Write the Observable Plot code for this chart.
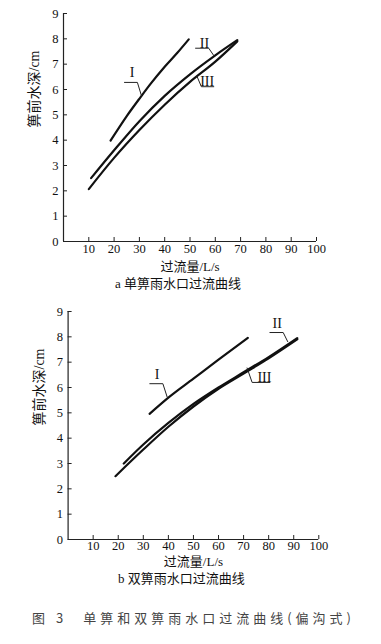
<!DOCTYPE html>
<html>
<head>
<meta charset="utf-8">
<script src="https://cdn.jsdelivr.net/npm/d3@7"></script>
<script src="https://cdn.jsdelivr.net/npm/@observablehq/plot@0.6"></script>
<style>
  body { margin: 0; background: #fff; width: 381px; }
  .cap { height: 48px; box-sizing: border-box; padding-top: 13px; padding-left: 32px;
         font: 13px "Noto Sans CJK SC", "Liberation Serif", serif; color: #444; line-height: 18px; white-space: pre; }
  .cap .t { letter-spacing: 4px; }
</style>
</head>
<body>
<div id="a"></div>
<div id="b"></div>
<div class="cap"><span class="t">图 3</span><span style="display:inline-block;width:16px"></span><span class="t">单箅和双箅雨水口过流曲线(偏沟式)</span></div>
<script>
// ---- axis ticks & titles ----
const xTicks = [10, 20, 30, 40, 50, 60, 70, 80, 90, 100];
const yTicks = [0, 1, 2, 3, 4, 5, 6, 7, 8, 9];
const xTitle = "过流量/L/s";
const yTitle = "箅前水深/cm";
const seriesNames = ["I", "II", "III"];

// ---- panel a: 单箅 ----
const aTitle = "a 单箅雨水口过流曲线";
const aIx = [18.6, 25, 30.4, 34.4, 40, 45, 49.5];
const aIy = [3.98, 4.95, 5.69, 6.22, 6.9, 7.45, 7.98];
const aIIx = [10.9, 20, 30, 40, 50, 60, 68.7];
const aIIy = [2.5, 3.6, 4.75, 5.75, 6.6, 7.35, 7.95];
const aIIIx = [10, 20, 30, 40, 50, 60, 68.7];
const aIIIy = [2.07, 3.3, 4.4, 5.4, 6.3, 7.1, 7.9];
// label anchors (data units) and leader polylines
const aLabelX = [27.1, 55.7, 56.8];
const aLabelY = [6.68, 7.83, 6.32];
const aLeadI = [[24.1, 6.28], [29.2, 6.28], [30.8, 5.76]];
const aLeadII = [[52.2, 7.63], [57.4, 7.63], [59.4, 7.34]];
const aLeadIII = [[52.8, 6.51], [54.5, 6.11], [59.4, 6.11]];

// ---- panel b: 双箅 ----
const bTitle = "b 双箅雨水口过流曲线";
const bIx = [32.5, 40, 50, 60, 71.7];
const bIy = [4.96, 5.6, 6.35, 7.1, 7.96];
const bIIx = [22.2, 30, 40, 50, 60, 70, 80, 91.4];
const bIIy = [3.0, 3.75, 4.6, 5.35, 6.0, 6.6, 7.2, 7.95];
const bIIIx = [18.9, 30, 40, 50, 60, 70, 80, 91.4];
const bIIIy = [2.5, 3.55, 4.45, 5.25, 5.95, 6.55, 7.15, 7.9];
const bLabelX = [35.5, 83.4, 78.3];
const bLabelY = [6.53, 8.52, 6.41];
const bLeadI = [[32.6, 6.15], [37.8, 6.15], [39.5, 5.63]];
const bLeadII = [[80.5, 8.17], [85.8, 8.17], [87.6, 7.81]];
const bLeadIII = [[71.4, 6.77], [73.4, 6.2], [80.5, 6.2]];

const serif = "'Liberation Serif', 'Times New Roman', serif";
const cjk = "'Liberation Serif', 'Noto Sans CJK SC', serif";

function toRows(xs, ys, name) { return xs.map((x, i) => ({x, y: ys[i], name})); }

function panel({series, labelX, labelY, leads, title, ml, mr, tickPad, titleDy}) {
  const lines = series.flatMap(([xs, ys], i) => toRows(xs, ys, seriesNames[i]));
  const labels = labelX.map((x, i) => ({x, y: labelY[i], t: seriesNames[i]}));
  const leadRows = leads.flatMap((pts, i) => pts.map(([x, y]) => ({x, y, name: seriesNames[i]})));
  return Plot.plot({
    width: 381, height: 298,
    marginTop: 13, marginBottom: 57, marginLeft: ml, marginRight: mr,
    style: {fontFamily: serif, fontSize: "12px", color: "#111", background: "#fff"},
    x: {domain: [0, 100], ticks: xTicks},
    y: {domain: [0, 9], ticks: yTicks},
    marks: [
      Plot.ruleY([0], {stroke: "#222", strokeWidth: 1.2}),
      Plot.ruleX([0], {y1: 0, y2: 9, stroke: "#222", strokeWidth: 1.2}),
      Plot.axisX(xTicks, {tickSize: -4, tickPadding: tickPad + 4, fontSize: 12.5, label: null, stroke: "#222"}),
      Plot.axisY(yTicks, {tickSize: -4, tickPadding: 9, fontSize: 12.5, label: null, stroke: "#222"}),
      Plot.line(lines, {x: "x", y: "y", z: "name", curve: "monotone-x", stroke: "#111", strokeWidth: 2.2}),
      Plot.line(leadRows, {x: "x", y: "y", z: "name", stroke: "#222", strokeWidth: 1}),
      Plot.text(labels, {x: "x", y: "y", text: "t", fontSize: 14, fontFamily: serif, fill: "#111"}),
      Plot.text([xTitle], {frameAnchor: "bottom", dy: titleDy, fontSize: 13, fontFamily: cjk, fill: "#111"}),
      Plot.text([title], {frameAnchor: "bottom", dy: titleDy + 17, dx: -12, fontSize: 13, fontFamily: cjk, fill: "#111"}),
      Plot.text([yTitle], {frameAnchor: "left", dx: -29, rotate: -90, fontSize: 14, fontFamily: cjk, fill: "#111"})
    ]
  });
}

document.getElementById("a").append(panel({
  series: [[aIx, aIy], [aIIx, aIIy], [aIIIx, aIIIy]],
  labelX: aLabelX, labelY: aLabelY, leads: [aLeadI, aLeadII, aLeadIII],
  title: aTitle, ml: 63, mr: 65, tickPad: 3, titleDy: 29
}));
document.getElementById("b").append(panel({
  series: [[bIx, bIy], [bIIx, bIIy], [bIIIx, bIIIy]],
  labelX: bLabelX, labelY: bLabelY, leads: [bLeadI, bLeadII, bLeadIII],
  title: bTitle, ml: 67.6, mr: 62.7, tickPad: 2, titleDy: 26
}));
</script>
</body>
</html>
